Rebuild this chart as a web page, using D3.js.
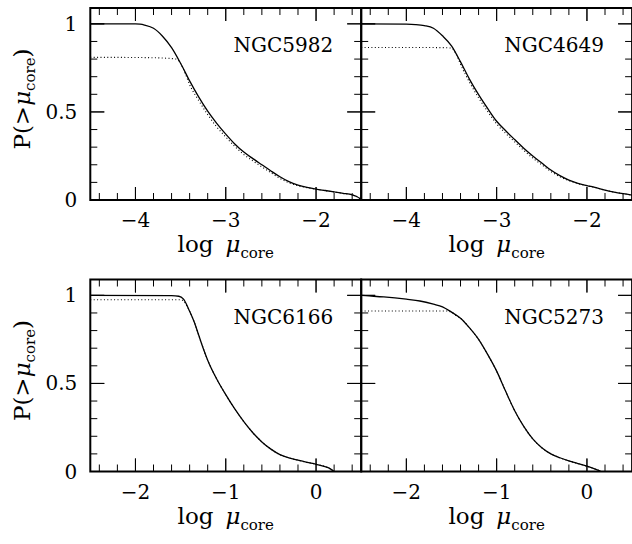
<!DOCTYPE html>
<html>
<head>
<meta charset="utf-8">
<script src="https://cdn.jsdelivr.net/npm/d3@7/dist/d3.min.js"></script>
<style>
  html, body { margin: 0; padding: 0; background: #fff; }
  svg { display: block; }
  text { font-family: "DejaVu Serif", "Liberation Serif", serif; fill: #000; }
</style>
</head>
<body>
<svg id="chart" width="632" height="544"></svg>
<script>
// ---------------- data ----------------
const panelNames = ["NGC5982", "NGC4649", "NGC6166", "NGC5273"];
const xDomainTop = [-4.5, -1.5];
const xDomainBottom = [-2.5, 0.5];
const yDomain = [0, 1.09];
const xMajorTop = [-4, -3, -2];
const xMajorBottom = [-2, -1, 0];
const yMajor = [0, 0.5, 1];
const yTickLabels = ["0", "0.5", "1"];

// NGC5982
const ngc5982_x = [-4.5, -4.0, -3.95, -3.9, -3.8, -3.7, -3.6, -3.5, -3.4, -3.3, -3.2, -3.1, -3.0, -2.9, -2.8, -2.7, -2.6, -2.5, -2.4, -2.3, -2.2, -2.1, -2.0, -1.9, -1.8, -1.7, -1.6, -1.55, -1.5];
const ngc5982_solid = [1.0, 1.0, 0.998, 0.993, 0.975, 0.93, 0.865, 0.776, 0.676, 0.585, 0.504, 0.435, 0.374, 0.318, 0.272, 0.235, 0.2, 0.165, 0.132, 0.104, 0.085, 0.072, 0.062, 0.054, 0.046, 0.038, 0.029, 0.02, 0.003];
const ngc5982_dx = [-4.5, -4.0, -3.7, -3.6, -3.55, -3.5, -3.45, -3.4, -3.3, -3.2, -3.1, -3.0, -2.9, -2.8, -2.7, -2.6, -2.5, -2.4, -2.3, -2.2, -2.1, -2.0, -1.9, -1.8, -1.7, -1.6, -1.55, -1.5];
const ngc5982_dotted = [0.81, 0.809, 0.806, 0.803, 0.80, 0.775, 0.72, 0.655, 0.565, 0.485, 0.415, 0.358, 0.304, 0.258, 0.222, 0.188, 0.155, 0.123, 0.098, 0.081, 0.07, 0.061, 0.053, 0.045, 0.037, 0.029, 0.02, 0.003];

// NGC4649
const ngc4649_x = [-4.5, -4.0, -3.9, -3.8, -3.7, -3.6, -3.5, -3.4, -3.3, -3.2, -3.1, -3.0, -2.9, -2.8, -2.7, -2.6, -2.5, -2.4, -2.3, -2.2, -2.1, -2.0, -1.9, -1.8, -1.7, -1.6, -1.5];
const ngc4649_solid = [1.0, 0.998, 0.996, 0.99, 0.975, 0.932, 0.875, 0.784, 0.685, 0.598, 0.52, 0.447, 0.393, 0.343, 0.294, 0.25, 0.21, 0.17, 0.138, 0.113, 0.095, 0.082, 0.07, 0.056, 0.045, 0.036, 0.028];
const ngc4649_dx = [-4.5, -4.0, -3.6, -3.5, -3.45, -3.4, -3.3, -3.2, -3.1, -3.0, -2.9, -2.8, -2.7, -2.6, -2.5, -2.4, -2.3, -2.2, -2.1, -2.0, -1.9, -1.8, -1.7, -1.6, -1.5];
const ngc4649_dotted = [0.866, 0.866, 0.865, 0.862, 0.83, 0.77, 0.668, 0.58, 0.503, 0.432, 0.378, 0.33, 0.282, 0.238, 0.2, 0.162, 0.132, 0.11, 0.093, 0.081, 0.07, 0.056, 0.045, 0.036, 0.028];

// NGC6166
const ngc6166_x = [-2.5, -1.6, -1.52, -1.47, -1.4, -1.35, -1.3, -1.25, -1.2, -1.1, -1.0, -0.9, -0.8, -0.7, -0.6, -0.5, -0.4, -0.3, -0.2, -0.1, 0.0, 0.1, 0.15, 0.2];
const ngc6166_solid = [1.0, 0.998, 0.995, 0.98, 0.91, 0.85, 0.775, 0.7, 0.632, 0.525, 0.436, 0.355, 0.283, 0.22, 0.168, 0.127, 0.096, 0.077, 0.064, 0.052, 0.041, 0.028, 0.018, 0.0];
const ngc6166_dx = [-2.5, -1.5, -1.47, -1.42, -1.4, -1.35, -1.3, -1.25, -1.2, -1.1, -1.0, -0.9, -0.8, -0.7, -0.6, -0.5, -0.4, -0.3, -0.2, -0.1, 0.0, 0.1, 0.15, 0.2];
const ngc6166_dotted = [0.975, 0.975, 0.97, 0.93, 0.91, 0.85, 0.775, 0.7, 0.632, 0.525, 0.436, 0.355, 0.283, 0.22, 0.168, 0.127, 0.096, 0.077, 0.064, 0.052, 0.041, 0.028, 0.018, 0.0];

// NGC5273
const ngc5273_x = [-2.5, -2.45, -2.25, -2.0, -1.85, -1.7, -1.6, -1.5, -1.4, -1.3, -1.2, -1.1, -1.0, -0.9, -0.8, -0.7, -0.6, -0.5, -0.4, -0.3, -0.2, -0.1, 0.0, 0.1, 0.15];
const ngc5273_solid = [1.0, 0.998, 0.991, 0.978, 0.968, 0.95, 0.935, 0.905, 0.87, 0.815, 0.75, 0.665, 0.57, 0.455, 0.345, 0.256, 0.185, 0.135, 0.1, 0.078, 0.06, 0.045, 0.03, 0.012, 0.002];
const ngc5273_dx = [-2.5, -1.55, -1.5, -1.45, -1.4, -1.3, -1.2, -1.1, -1.0, -0.9, -0.8, -0.7, -0.6, -0.5, -0.4, -0.3, -0.2, -0.1, 0.0, 0.1, 0.15];
const ngc5273_dotted = [0.911, 0.911, 0.905, 0.885, 0.87, 0.815, 0.75, 0.665, 0.57, 0.455, 0.345, 0.256, 0.185, 0.135, 0.1, 0.078, 0.06, 0.045, 0.03, 0.012, 0.002];

// ---------------- layout ----------------
const colX = [90.3, 361.2];
const plotW = 270.9;
const rowBottom = [200, 471.5];
const plotH = 192;

const panels = [
  {name: panelNames[0], col: 0, row: 0, xd: xDomainTop, xm: xMajorTop, sx: ngc5982_x, sy: ngc5982_solid, dx: ngc5982_dx, dy: ngc5982_dotted},
  {name: panelNames[1], col: 1, row: 0, xd: xDomainTop, xm: xMajorTop, sx: ngc4649_x, sy: ngc4649_solid, dx: ngc4649_dx, dy: ngc4649_dotted},
  {name: panelNames[2], col: 0, row: 1, xd: xDomainBottom, xm: xMajorBottom, sx: ngc6166_x, sy: ngc6166_solid, dx: ngc6166_dx, dy: ngc6166_dotted},
  {name: panelNames[3], col: 1, row: 1, xd: xDomainBottom, xm: xMajorBottom, sx: ngc5273_x, sy: ngc5273_solid, dx: ngc5273_dx, dy: ngc5273_dotted}
];

const svg = d3.select("#chart");
const fmtX = d => (d < 0 ? "\u2212" + Math.abs(d) : String(d));

panels.forEach(p => {
  const x0 = colX[p.col], yb = rowBottom[p.row];
  const x = d3.scaleLinear().domain(p.xd).range([x0, x0 + plotW]);
  const y = d3.scaleLinear().domain(yDomain).range([yb, yb - plotH]);
  const g = svg.append("g");
  const yTop = y(yDomain[1]);

  const cid = "clip" + p.col + p.row;
  svg.append("clipPath").attr("id", cid).append("rect")
    .attr("x", x0).attr("y", yTop).attr("width", plotW).attr("height", plotH);

  const line = d3.line().x(d => x(d[0])).y(d => y(d[1])).curve(d3.curveMonotoneX);
  g.append("path").attr("clip-path", `url(#${cid})`)
    .datum(d3.zip(p.dx, p.dy))
    .attr("d", line).attr("fill", "none").attr("stroke", "#000")
    .attr("stroke-width", 1.1).attr("stroke-dasharray", "1,2.4");
  g.append("path").attr("clip-path", `url(#${cid})`)
    .datum(d3.zip(p.sx, p.sy))
    .attr("d", line).attr("fill", "none").attr("stroke", "#000")
    .attr("stroke-width", 1.3);

  const xMinor = d3.range(Math.ceil(p.xd[0] / 0.2) * 0.2, p.xd[1] + 1e-9, 0.2)
    .map(v => +v.toFixed(2)).filter(v => v > p.xd[0] + 1e-6 && v < p.xd[1] - 1e-6);
  const yMinor = d3.range(0.1, yDomain[1], 0.1).map(v => +v.toFixed(2));
  const isMajorX = v => p.xm.some(m => Math.abs(m - v) < 1e-6);
  const isMajorY = v => yMajor.some(m => Math.abs(m - v) < 1e-6);
  const tk = g.append("g").attr("stroke", "#000").attr("stroke-width", 1);
  xMinor.concat(p.xm).forEach(v => {
    const len = isMajorX(v) ? 13 : 7;
    tk.append("line").attr("x1", x(v)).attr("x2", x(v)).attr("y1", yb).attr("y2", yb - len);
    tk.append("line").attr("x1", x(v)).attr("x2", x(v)).attr("y1", yTop).attr("y2", yTop + len);
  });
  yMinor.concat(yMajor).forEach(v => {
    const len = isMajorY(v) ? 14 : 7;
    tk.append("line").attr("x1", x0).attr("x2", x0 + len).attr("y1", y(v)).attr("y2", y(v));
    tk.append("line").attr("x1", x0 + plotW).attr("x2", x0 + plotW - len).attr("y1", y(v)).attr("y2", y(v));
  });

  g.append("rect").attr("x", x0).attr("y", yTop).attr("width", plotW).attr("height", plotH)
    .attr("fill", "none").attr("stroke", "#000").attr("stroke-width", 2);

  p.xm.forEach(v => {
    g.append("text").attr("x", x(v)).attr("y", yb + 27).attr("text-anchor", "middle")
      .attr("font-size", 20).text(fmtX(v));
  });
  if (p.col === 0) {
    yMajor.forEach((v, i) => {
      g.append("text").attr("x", x0 - 13).attr("y", y(v) + 7).attr("text-anchor", "end")
        .attr("font-size", 20).text(yTickLabels[i]);
    });
    const yt = g.append("text").attr("transform", `translate(29.5,${yb - 101}) rotate(-90)`)
      .attr("text-anchor", "middle").attr("font-size", 23);
    yt.append("tspan").text("P(>");
    yt.append("tspan").attr("font-style", "italic").text("\u03bc");
    yt.append("tspan").attr("font-size", 15).attr("dy", 5).text("core");
    yt.append("tspan").attr("dy", -5).text(")");
  }
  const xt = g.append("text").attr("x", x0 + plotW / 2).attr("y", yb + 52)
    .attr("text-anchor", "middle").attr("font-size", 23).style("white-space", "pre");
  xt.append("tspan").text("log \u2009");
  xt.append("tspan").attr("font-style", "italic").text("\u03bc");
  xt.append("tspan").attr("font-size", 15).attr("dy", 6).text("core");

  g.append("text").attr("x", x0 + 193).attr("y", yTop + 44).attr("text-anchor", "middle")
    .attr("font-size", 20).text(p.name);
});
</script>
</body>
</html>
